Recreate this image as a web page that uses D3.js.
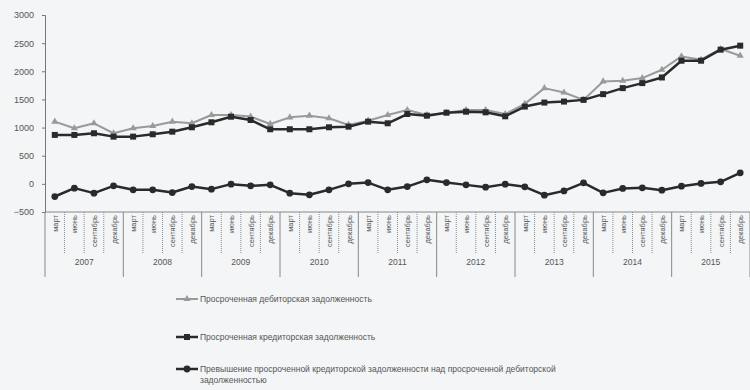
<!DOCTYPE html>
<html><head><meta charset="utf-8">
<script src="https://cdn.jsdelivr.net/npm/d3@7"></script>
<style>
body{margin:0;background:#f3f5f7;}
svg{display:block;font-family:"Liberation Sans",Arial,sans-serif;}
</style></head>
<body><svg id="c" width="750" height="390"></svg>
<script>
const years = ["2007","2008","2009","2010","2011","2012","2013","2014","2015"];
const months = ["март","июнь","сентябрь","декабрь"];
const debtors = [1105,988,1076,899,988,1028,1105,1076,1223,1223,1195,1064,1182,1211,1165,1046,1122,1223,1312,1223,1264,1312,1312,1240,1421,1701,1623,1492,1819,1831,1879,2027,2264,2205,2396,2277];
const creditors = [869,869,899,839,839,881,927,1005,1094,1193,1135,970,970,970,1005,1016,1105,1076,1241,1211,1264,1282,1271,1200,1373,1444,1462,1492,1594,1701,1790,1890,2188,2188,2384,2455];
const excess = [-225,-76,-165,-35,-106,-106,-154,-48,-94,-5,-35,-18,-165,-195,-106,0,23,-106,-48,71,23,-18,-59,-5,-53,-201,-125,18,-160,-82,-71,-112,-41,7,36,196];
const yTicks = [-500,0,500,1000,1500,2000,2500,3000];
const legendLabels = ["Просроченная дебиторская  задолженность","Просроченная кредиторская  задолженность",["Превышение просроченной кредиторской задолженности над просроченной дебиторской","задолженностью"]];

const cats = [];
years.forEach(y=>months.forEach(m=>cats.push(y+"|"+m)));

const svg = d3.select("#c");
const x = d3.scaleBand().domain(cats).range([45,750]);
const y = d3.scaleLinear().domain([-500,3000]).range([212,15]);
const txt = "#555";

// y axis
const ya = svg.append("g").attr("transform","translate(45,0)")
  .call(d3.axisLeft(y).tickValues(yTicks).tickFormat(d3.format("d")).tickSize(3).tickPadding(8));
ya.selectAll("text").attr("font-size",9).attr("fill",txt);
ya.selectAll("line,path").attr("stroke","#777");

// category axis
const ax = svg.append("g");
ax.append("line").attr("x1",45).attr("x2",750).attr("y1",y(-500)).attr("y2",y(-500)).attr("stroke","#888");
cats.forEach((c,i)=>{
  const x0 = x(c);
  const isYear = i%4===0;
  ax.append("line").attr("x1",x0).attr("x2",x0).attr("y1",y(-500)).attr("y2",isYear?277:253)
    .attr("stroke","#888").attr("stroke-dasharray",isYear?null:"1,1");
});
ax.append("line").attr("x1",750).attr("x2",750).attr("y1",y(-500)).attr("y2",277).attr("stroke","#888");
cats.forEach(c=>{
  const cx = x(c)+x.bandwidth()/2+3;
  ax.append("text").attr("transform",`translate(${cx},${y(-500)+3}) rotate(-90)`)
    .attr("text-anchor","end").attr("font-size",7.5).attr("fill",txt).text(c.split("|")[1]);
});
years.forEach((yr,k)=>{
  const x0 = x(yr+"|март"), x1 = x(yr+"|декабрь")+x.bandwidth();
  ax.append("text").attr("x",(x0+x1)/2).attr("y",265).attr("text-anchor","middle")
    .attr("font-size",8.5).attr("fill",txt).text(yr);
});

const series = [
  {vals:debtors,color:"#9a9a9a",w:2,marker:"triangle",size:22},
  {vals:creditors,color:"#2a2a2a",w:2.5,marker:"square",size:36},
  {vals:excess,color:"#2a2a2a",w:2.5,marker:"circle",size:36}
];
const symMap = {triangle:d3.symbolTriangle,square:d3.symbolSquare,circle:d3.symbolCircle};
const cx = i=>x(cats[i])+x.bandwidth()/2;
series.forEach(s=>{
  const line = d3.line().x((d,i)=>cx(i)).y(d=>y(d));
  svg.append("path").datum(s.vals).attr("d",line).attr("fill","none")
    .attr("stroke",s.color).attr("stroke-width",s.w).attr("stroke-linejoin","round");
  svg.append("g").selectAll("path").data(s.vals).join("path")
    .attr("transform",(d,i)=>`translate(${cx(i)},${y(d)})`)
    .attr("d",d3.symbol().type(symMap[s.marker]).size(s.size))
    .attr("fill",s.color);
});

// legend
const ly = [299,337,369];
series.forEach((s,k)=>{
  const g = svg.append("g").attr("transform",`translate(176,${ly[k]})`);
  g.append("line").attr("x1",0).attr("x2",22).attr("stroke",s.color).attr("stroke-width",s.w);
  g.append("path").attr("transform","translate(11,0)").attr("d",d3.symbol().type(symMap[s.marker]).size(s.size)).attr("fill",s.color);
  const lab = legendLabels[k];
  const lines = Array.isArray(lab)?lab:[lab];
  lines.forEach((t,j)=>g.append("text").attr("x",24).attr("y",3+j*11).attr("font-size",8.5).attr("fill",txt).text(t));
});
</script></body></html>
